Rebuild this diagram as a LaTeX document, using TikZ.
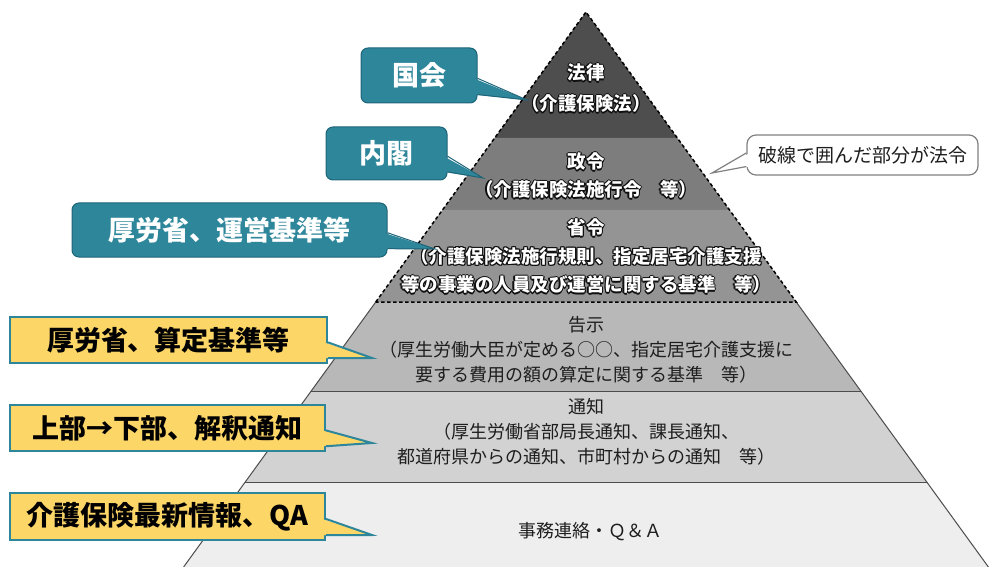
\documentclass[tikz,border=0pt]{standalone}
\usepackage{fontspec}
\setmainfont{Noto Sans CJK JP}
\usetikzlibrary{calc}
\definecolor{tealc}{RGB}{46,134,155}
\definecolor{tealb}{RGB}{30,100,120}
\definecolor{yelc}{RGB}{253,214,104}
\definecolor{layA}{RGB}{78,78,78}
\definecolor{layB}{RGB}{125,125,125}
\definecolor{layC}{RGB}{148,148,148}
\definecolor{layD}{RGB}{184,184,184}
\definecolor{layE}{RGB}{210,210,210}
\definecolor{layF}{RGB}{238,238,238}
\definecolor{olc}{RGB}{15,15,15}
\definecolor{txtc}{RGB}{30,30,30}
\newcommand\olsh[2]{\rlap{\kern#1\raise#2\hbox{\color{olc}\copy0}}}
\newcommand\olt[1]{{\setbox0=\hbox{#1}\olsh{-1.1pt}{0pt}\olsh{1.1pt}{0pt}\olsh{0pt}{1.1pt}\olsh{0pt}{-1.1pt}\olsh{-.8pt}{.8pt}\olsh{.8pt}{.8pt}\olsh{-.8pt}{-.8pt}\olsh{.8pt}{-.8pt}\box0}}
\newcommand\callptrE[6]{%
  \fill[#5] ($(#1.north east)!#3!(#1.south east)+(-4,0)$) -- (#2) -- ($(#1.north east)!#4!(#1.south east)+(-4,0)$) -- cycle;
  \draw[#6] ($(#1.north east)!#3!(#1.south east)$) -- (#2) -- ($(#1.north east)!#4!(#1.south east)$);}
\newcommand\callptrW[6]{%
  \fill[#5] ($(#1.north west)!#3!(#1.south west)+(4,0)$) -- (#2) -- ($(#1.north west)!#4!(#1.south west)+(4,0)$) -- cycle;
  \draw[#6] ($(#1.north west)!#3!(#1.south west)$) -- (#2) -- ($(#1.north west)!#4!(#1.south west)$);}
\tikzset{
  tealbox/.style={fill=tealc, draw=tealb, line width=1pt, rounded corners=7pt, text=white,
    font=\fontsize{27}{30}\selectfont\bfseries, inner sep=0pt},
  yelbox/.style={fill=yelc, draw=tealc, line width=2pt, text=black,
    font=\fontsize{27}{30}\selectfont\bfseries, inner sep=0pt},
  notebox/.style={fill=white, draw=gray, line width=1.2pt, rounded corners=9pt, text=txtc,
    font=\fontsize{19}{22}\selectfont, inner sep=0pt},
  toptext/.style={text=white, align=center, inner sep=0pt},
  lowtext/.style={text=txtc, align=center, inner sep=0pt},
  edgeline/.style={draw=black!70, line width=1pt},
  lawdash/.style={draw=black, line width=1.5pt, dash pattern=on 3.5pt off 2.5pt},
  tptr/.style={draw=tealb, line width=1pt},
  yptr/.style={draw=tealc, line width=2pt},
  nptr/.style={draw=gray, line width=1.2pt}
}
\begin{document}
\begin{tikzpicture}[x=1pt,y=-1pt]
\useasboundingbox (0,0) rectangle (989,567);
% pyramid coordinates
\coordinate (apex) at (586,12);
\coordinate (L1) at (494.65,138); \coordinate (R1) at (677.35,138);
\coordinate (L2) at (442.45,210); \coordinate (R2) at (729.55,210);
\coordinate (L3) at (375.75,302); \coordinate (R3) at (796.25,302);
\coordinate (L4) at (311.2,391);  \coordinate (R4) at (860.8,391);
\coordinate (L5) at (245.25,482); \coordinate (R5) at (926.75,482);
\coordinate (L6) at (183.6,567);  \coordinate (R6) at (988.4,567);
% layers
\fill[layA] (apex) -- (R1) -- (L1) -- cycle;
\fill[layB] (L1) -- (R1) -- (R2) -- (L2) -- cycle;
\fill[layC] (L2) -- (R2) -- (R3) -- (L3) -- cycle;
\fill[layD] (L3) -- (R3) -- (R4) -- (L4) -- cycle;
\fill[layE] (L4) -- (R4) -- (R5) -- (L5) -- cycle;
\fill[layF] (L5) -- (R5) -- (R6) -- (L6) -- cycle;
\draw[edgeline] (L3) -- (L6);
\draw[edgeline] (R3) -- (R6);
\draw[edgeline] (L4) -- (R4);
\draw[edgeline] (L5) -- (R5);
\draw[lawdash] (L3) -- (apex) -- (R3) -- cycle;
% pyramid texts
\node[toptext, font=\fontsize{18.5}{31}\selectfont\bfseries] (houritsu) at (586,88.5)
  {\olt{法律}\\\olt{（介護保険法）}};
\node[toptext, font=\fontsize{18.5}{28}\selectfont\bfseries] (seirei) at (586,176)
  {\olt{政令}\\\olt{（介護保険法施行令　等）}};
\node[toptext, font=\fontsize{18.5}{28.5}\selectfont\bfseries] (shourei) at (586,256.5)
  {\olt{省令}\\\olt{（介護保険法施行規則、指定居宅介護支援}\\\olt{等の事業の人員及び運営に関する基準　等）}};
\node[lowtext, font=\fontsize{18}{25}\selectfont] (kokuji) at (586,350)
  {告示\\（厚生労働大臣が定める○○、指定居宅介護支援に\\要する費用の額の算定に関する基準　等）};
\node[lowtext, font=\fontsize{18}{25}\selectfont] (tsuuchi) at (586,432)
  {通知\\（厚生労働省部局長通知、課長通知、\\都道府県からの通知、市町村からの通知　等）};
\node[lowtext, font=\fontsize{18}{25}\selectfont] (jimu) at (590,532) {事務連絡・Ｑ＆Ａ};
% callouts
\node[tealbox, minimum width=116pt, minimum height=55pt] (kokkai) at (419,75.5) {国会};
\coordinate (tipA) at (527,100);
\callptrE{kokkai}{tipA}{0.55}{0.84}{tealc}{tptr}
\node[tealbox, minimum width=121pt, minimum height=53pt] (naikaku) at (386.5,153.5) {内閣};
\coordinate (tipB) at (483,178);
\callptrE{naikaku}{tipB}{0.55}{0.84}{tealc}{tptr}
\node[tealbox, minimum width=315pt, minimum height=54pt] (unei) at (229.5,230) {厚労省、運営基準等};
\coordinate (tipC) at (435,249);
\callptrE{unei}{tipC}{0.55}{0.84}{tealc}{tptr}
\node[yelbox, minimum width=317pt, minimum height=46pt] (santei) at (168.5,340) {厚労省、算定基準等};
\coordinate (tipD) at (372,358);
\callptrE{santei}{tipD}{0.55}{0.88}{yelc}{yptr}
\node[yelbox, minimum width=315pt, minimum height=46pt] (kaishaku) at (167.5,428) {上部→下部、解釈通知};
\coordinate (tipE) at (372,443);
\callptrE{kaishaku}{tipE}{0.55}{0.88}{yelc}{yptr}
\node[yelbox, minimum width=315pt, minimum height=47pt] (saishin) at (167.5,516.5) {介護保険最新情報、QA};
\coordinate (tipF) at (372,535);
\callptrE{saishin}{tipF}{0.55}{0.88}{yelc}{yptr}
\node[notebox, minimum width=231pt, minimum height=40pt] (hourei) at (862.5,155) {破線で囲んだ部分が法令};
\coordinate (tipG) at (712,173);
\callptrW{hourei}{tipG}{0.45}{0.78}{white}{nptr}
\end{tikzpicture}
\end{document}
